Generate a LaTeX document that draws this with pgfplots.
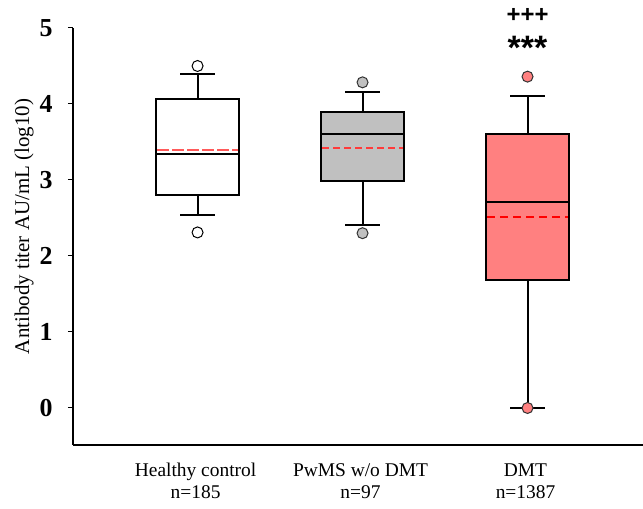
\documentclass[border=0pt]{standalone}
\usepackage{pgfplots}
\pgfplotsset{compat=1.18}
\usepgfplotslibrary{statistics}
\usepackage{fontspec}
\setmainfont{Liberation Serif}
\newfontfamily\starfont{Liberation Sans}
\definecolor{boxgray}{HTML}{C0C0C0}
\definecolor{salmon}{HTML}{FF8080}
\definecolor{meanA}{HTML}{FF5A5A}
\definecolor{meanB}{HTML}{FF3A3A}
\definecolor{meanC}{HTML}{FF0000}
\begin{document}
\begin{tikzpicture}
\begin{axis}[
  name=ax,
  scale only axis,
  width=570bp, height=417bp,
  xmin=0.245, xmax=3.70,
  ymin=-0.487, ymax=5,
  axis x line=bottom, axis y line=left,
  axis line style={line width=2bp,-},
  clip=false,
  ytick={0,1,2,3,4,5},
  xtick={1,2,3},
  xticklabels={{Healthy control\\n=185},{PwMS w/o DMT\\n=97},{DMT\\n=1387}},
  xticklabel style={align=center,font=\fontsize{19.5}{22}\selectfont,yshift=-10bp,xshift=-2bp},
  major x tick style={draw=none},
  tick align=outside,
  major tick length=5bp,
  ytick style={line width=1bp,black},
  yticklabel style={font=\bfseries\fontsize{26}{26}\selectfont,xshift=-12bp},
  /pgf/number format/assume math mode=true,
  ylabel={Antibody titer AU/mL (log10)},
  ylabel style={font=\fontsize{21}{21}\selectfont,yshift=-1bp,xshift=10bp},
  boxplot/draw direction=y,
]
\addplot+[boxplot prepared={median=3.34, upper quartile=4.06, lower quartile=2.80,
  upper whisker=4.39, lower whisker=2.535, box extend=0.5, whisker extend=0.21},
  draw=black, fill=white, line width=2bp, solid, mark=none] coordinates {};
\addplot+[boxplot prepared={median=3.60, upper quartile=3.89, lower quartile=2.99,
  upper whisker=4.16, lower whisker=2.41, box extend=0.5, whisker extend=0.21},
  draw=black, fill=boxgray, line width=2bp, solid, mark=none] coordinates {};
\addplot+[boxplot prepared={median=2.71, upper quartile=3.605, lower quartile=1.68,
  upper whisker=4.11, lower whisker=0.0, box extend=0.5, whisker extend=0.21},
  draw=black, fill=salmon, line width=2bp, solid, mark=none] coordinates {};
% means
\addplot[meanA, line width=2bp, dash pattern=on 12bp off 3bp] coordinates {(0.755,3.40) (1.245,3.40)};
\addplot[meanB, line width=1.5bp, dash pattern=on 7bp off 4bp] coordinates {(1.755,3.42) (2.245,3.42)};
\addplot[meanC, line width=1.8bp, dash pattern=on 8bp off 5bp] coordinates {(2.755,2.51) (3.245,2.51)};
% outliers
\addplot[only marks, mark=*, mark size=5.5bp, mark options={fill=white,draw=black,line width=1bp}] coordinates {(1,4.50) (1,2.31)};
\addplot[only marks, mark=*, mark size=5.5bp, mark options={fill=boxgray,draw=black!80,line width=1bp}] coordinates {(2,4.285) (2,2.30)};
\addplot[only marks, mark=*, mark size=5.5bp, mark options={fill=salmon,draw=black!80,line width=1bp}] coordinates {(3,4.36) (3,0.0)};
% significance
\node[font=\starfont\bfseries\fontsize{24}{24}\selectfont] at (axis cs:3,5.17) {+++};
\node[font=\starfont\bfseries\fontsize{34}{34}\selectfont] at (axis cs:3,4.74) {***};
\end{axis}
\pgfresetboundingbox
\path[use as bounding box] ([xshift=-73bp,yshift=-64bp]ax.south west) rectangle ([yshift=28bp]ax.north east);
\end{tikzpicture}
\end{document}
